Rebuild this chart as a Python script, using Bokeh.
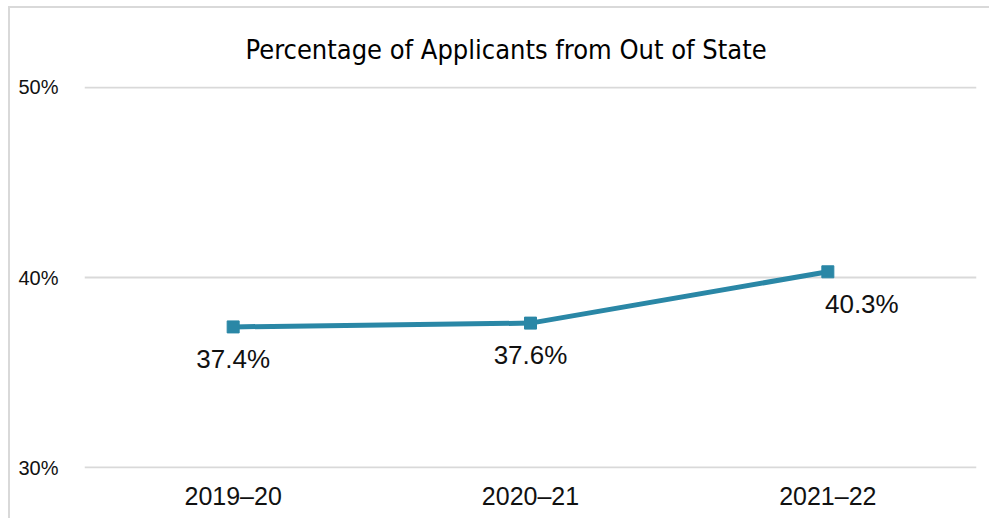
from bokeh.plotting import figure
from bokeh.models import ColumnDataSource, FixedTicker, PrintfTickFormatter, Range1d, Title
from bokeh.core.properties import value
from bokeh.embed import file_html
from bokeh.resources import INLINE

# Data
years = ["2019–20", "2020–21", "2021–22"]
pct_out_of_state = [37.4, 37.6, 40.3]
y_ticks = [30, 40, 50]
title_text = "Percentage of Applicants from Out of State"

label_dx = [0, 0, 34]  # style: horizontal nudge of value labels

COLOR = "#2a87a6"
FONT = "Liberation Sans"

src = ColumnDataSource(dict(
    x=years,
    y=pct_out_of_state,
    txt=[f"{v:.1f}%" for v in pct_out_of_state],
    dx=label_dx,
))

p = figure(
    width=981, height=512,
    x_range=years, y_range=Range1d(29.95, 50.05),
    output_backend="svg", toolbar_location=None,
    min_border_left=74, min_border_right=15,
    min_border_top=78, min_border_bottom=52,
)
p.styles = {"margin-left": "8px", "margin-top": "6px",
            "border-left": "2px solid #d9d9d9", "border-top": "2px solid #d9d9d9"}

p.add_layout(Title(text=title_text,
                   align="left", offset=161,
                   text_font="DejaVu Sans Condensed",
                   text_font_size="27px", text_font_style="normal",
                   text_color="#000000", standoff=44), "above")

p.outline_line_color = None
p.background_fill_color = "white"
p.border_fill_color = "white"

p.xgrid.grid_line_color = None
p.ygrid.grid_line_color = "#d9d9d9"
p.ygrid.grid_line_width = 2

p.yaxis.ticker = FixedTicker(ticks=y_ticks)
p.yaxis.formatter = PrintfTickFormatter(format="%d%%")
for ax in (p.xaxis, p.yaxis):
    ax.axis_line_color = None
    ax.major_tick_line_color = None
    ax.minor_tick_line_color = None
    ax.major_label_text_font = FONT
    ax.major_label_text_color = "#111111"
p.yaxis.major_label_text_font_size = "20px"
p.yaxis.major_label_standoff = 20
p.xaxis.major_label_text_font_size = "25px"
p.xaxis.major_label_standoff = 7
p.x_range.range_padding = 0

p.line("x", "y", source=src, line_color=COLOR, line_width=5)
p.scatter("x", "y", source=src, marker="square", size=12,
          fill_color=COLOR, line_color=COLOR)

p.text("x", "y", text="txt", source=src,
       x_offset="dx", y_offset=32,
       text_align="center", text_baseline="middle",
       text_font=value(FONT), text_font_size="26px", text_color="#111111")

open("out.html", "w").write(file_html(p, INLINE))
